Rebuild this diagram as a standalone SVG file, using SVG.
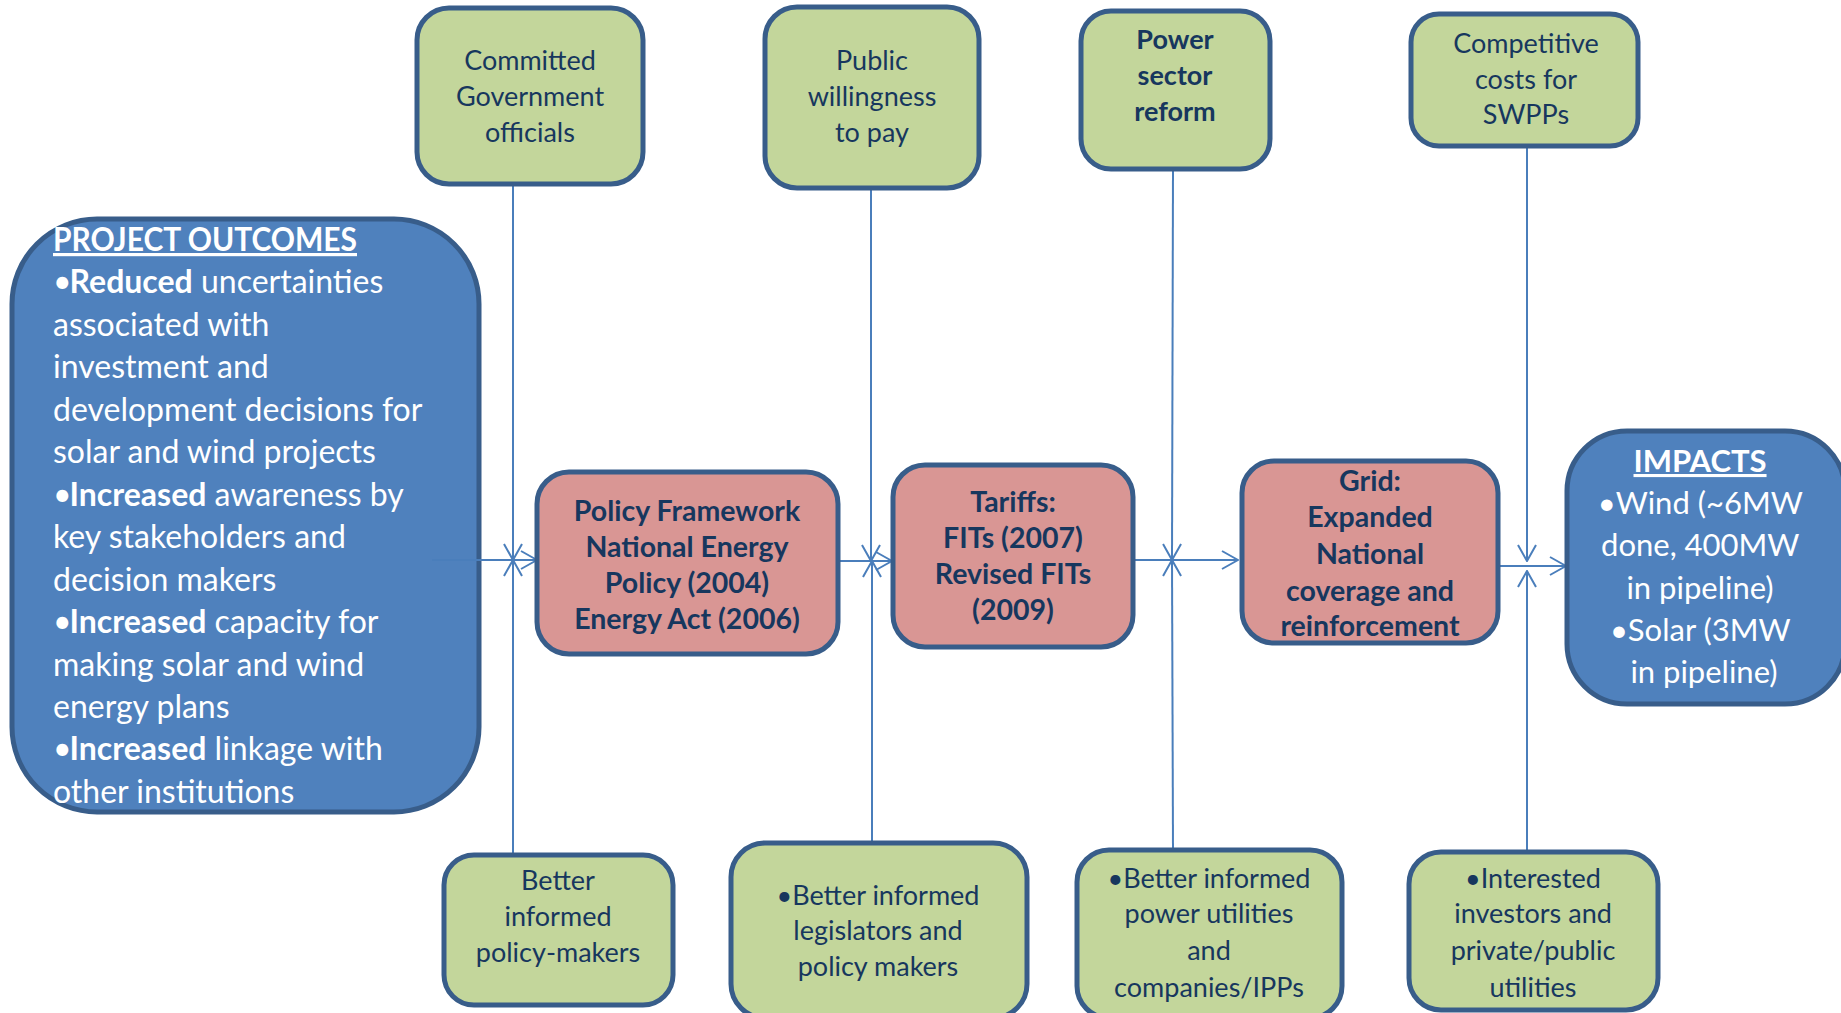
<svg xmlns="http://www.w3.org/2000/svg" width="1841" height="1013" viewBox="0 0 1841 1013">
  <style>
    .green { fill: #C3D69B; stroke: #385D8A; stroke-width: 5; }
    .pink { fill: #D99694; stroke: #385D8A; stroke-width: 5; }
    .blue { fill: #4F81BD; stroke: #385D8A; stroke-width: 5; }
    .lbl { font-family: Lato, "Liberation Sans", sans-serif; font-size: 27px; fill: #17375E; text-anchor: middle; }
    .bold { font-weight: bold; }
    .mid { font-size: 28.5px; }
    .white { font-family: Lato, "Liberation Sans", sans-serif; fill: #FFFFFF; }
    .wire { stroke: #4A7EBB; stroke-width: 2; fill: none; }
  </style>
  <defs>
    <marker id="arrow" viewBox="0 0 18 20" refX="17" refY="10" markerWidth="18" markerHeight="20" markerUnits="userSpaceOnUse" orient="auto">
      <path d="M1,1 L17,10 L1,19" fill="none" stroke="#4A7EBB" stroke-width="2"/>
    </marker>
  </defs>

  <!-- Project outcomes -->
  <g id="outcomes">
    <rect class="blue" x="12" y="219" width="467" height="593" rx="85" ry="85"/>
    <text class="white" font-size="32">
      <tspan x="53" y="251" font-weight="bold" text-decoration="underline" textLength="304" lengthAdjust="spacingAndGlyphs">PROJECT OUTCOMES</tspan>
      <tspan x="53" y="293">•<tspan dx="-2" font-weight="bold">Reduced</tspan> uncertainties</tspan>
      <tspan x="53" y="336">associated with</tspan>
      <tspan x="53" y="378">investment and</tspan>
      <tspan x="53" y="421">development decisions for</tspan>
      <tspan x="53" y="463">solar and wind projects</tspan>
      <tspan x="53" y="506">•<tspan dx="-2" font-weight="bold">Increased</tspan> awareness by</tspan>
      <tspan x="53" y="548">key stakeholders and</tspan>
      <tspan x="53" y="591">decision makers</tspan>
      <tspan x="53" y="633">•<tspan dx="-2" font-weight="bold">Increased</tspan> capacity for</tspan>
      <tspan x="53" y="676">making solar and wind</tspan>
      <tspan x="53" y="718">energy plans</tspan>
      <tspan x="53" y="760">•<tspan dx="-2" font-weight="bold">Increased</tspan> linkage with</tspan>
      <tspan x="53" y="803">other institutions</tspan>
    </text>
  </g>

  <!-- Connectors -->
  <g id="connectors">
    <line class="wire" x1="432" y1="560" x2="537" y2="560" marker-end="url(#arrow)"/>
    <line class="wire" x1="838" y1="561" x2="892" y2="561" marker-end="url(#arrow)"/>
    <line class="wire" x1="1133" y1="560" x2="1238" y2="560" marker-end="url(#arrow)"/>
    <line class="wire" x1="1498" y1="566" x2="1566" y2="566" marker-end="url(#arrow)"/>

    <line class="wire" x1="513" y1="184" x2="513" y2="560" marker-end="url(#arrow)"/>
    <line class="wire" x1="513" y1="855" x2="513" y2="560" marker-end="url(#arrow)"/>
    <line class="wire" x1="871" y1="188" x2="871" y2="561" marker-end="url(#arrow)"/>
    <line class="wire" x1="872" y1="843" x2="872" y2="561" marker-end="url(#arrow)"/>
    <line class="wire" x1="1173" y1="169" x2="1172" y2="560" marker-end="url(#arrow)"/>
    <line class="wire" x1="1173" y1="850" x2="1172" y2="560" marker-end="url(#arrow)"/>
    <line class="wire" x1="1527" y1="146" x2="1527" y2="561" marker-end="url(#arrow)"/>
    <line class="wire" x1="1527" y1="852" x2="1527" y2="571" marker-end="url(#arrow)"/>
  </g>

  <!-- Top row: enabling conditions -->
  <g id="committed-officials">
    <rect class="green" x="417" y="8" width="226" height="176" rx="32" ry="32"/>
    <text class="lbl"><tspan x="530" y="70">Committed</tspan><tspan x="530" y="106">Government</tspan><tspan x="530" y="142">officials</tspan></text>
  </g>
  <g id="public-willingness">
    <rect class="green" x="765" y="7" width="214" height="181" rx="32" ry="32"/>
    <text class="lbl"><tspan x="872" y="70">Public</tspan><tspan x="872" y="106">willingness</tspan><tspan x="872" y="142">to pay</tspan></text>
  </g>
  <g id="power-sector-reform">
    <rect class="green" x="1081" y="11" width="189" height="158" rx="30" ry="30"/>
    <text class="lbl bold"><tspan x="1175" y="49">Power</tspan><tspan x="1175" y="85">sector</tspan><tspan x="1175" y="121">reform</tspan></text>
  </g>
  <g id="competitive-costs">
    <rect class="green" x="1411" y="14" width="227" height="132" rx="28" ry="28"/>
    <text class="lbl"><tspan x="1526" y="53">Competitive</tspan><tspan x="1526" y="89">costs for</tspan><tspan x="1526" y="124">SWPPs</tspan></text>
  </g>

  <!-- Middle row: policy chain -->
  <g id="policy-framework">
    <rect class="pink" x="537" y="472" width="301" height="182" rx="32" ry="32"/>
    <text class="lbl bold mid"><tspan x="687" y="521">Policy Framework</tspan><tspan x="687" y="557">National Energy</tspan><tspan x="687" y="593">Policy (2004)</tspan><tspan x="687" y="629">Energy Act (2006)</tspan></text>
  </g>
  <g id="tariffs">
    <rect class="pink" x="893" y="465" width="240" height="182" rx="32" ry="32"/>
    <text class="lbl bold mid"><tspan x="1013" y="512">Tariffs:</tspan><tspan x="1013" y="548">FITs (2007)</tspan><tspan x="1013" y="584">Revised FITs</tspan><tspan x="1013" y="620">(2009)</tspan></text>
  </g>
  <g id="grid">
    <rect class="pink" x="1242" y="461" width="256" height="182" rx="32" ry="32"/>
    <text class="lbl bold mid"><tspan x="1370" y="491">Grid:</tspan><tspan x="1370" y="527">Expanded</tspan><tspan x="1370" y="564">National</tspan><tspan x="1370" y="601">coverage and</tspan><tspan x="1370" y="636">reinforcement</tspan></text>
  </g>
  <g id="impacts">
    <rect class="blue" x="1567" y="431" width="278" height="273" rx="60" ry="60"/>
    <text class="white" font-size="31" text-anchor="middle">
      <tspan x="1704" y="472" font-weight="bold" text-decoration="underline">IMPACTS</tspan>
      <tspan x="1704" y="514">•Wind (~6MW</tspan>
      <tspan x="1704" y="556">done, 400MW</tspan>
      <tspan x="1704" y="599">in pipeline)</tspan>
      <tspan x="1704" y="641">•Solar (3MW</tspan>
      <tspan x="1704" y="683">in pipeline)</tspan>
    </text>
  </g>

  <!-- Bottom row: stakeholder results -->
  <g id="informed-policy-makers">
    <rect class="green" x="444" y="855" width="229" height="150" rx="30" ry="30"/>
    <text class="lbl"><tspan x="558" y="890">Better</tspan><tspan x="558" y="926">informed</tspan><tspan x="558" y="962">policy-makers</tspan></text>
  </g>
  <g id="informed-legislators">
    <rect class="green" x="731" y="843" width="296" height="175" rx="34" ry="34"/>
    <text class="lbl"><tspan x="878" y="905">•Better informed</tspan><tspan x="878" y="940">legislators and</tspan><tspan x="878" y="976">policy makers</tspan></text>
  </g>
  <g id="informed-utilities">
    <rect class="green" x="1077" y="850" width="265" height="168" rx="32" ry="32"/>
    <text class="lbl"><tspan x="1209" y="888">•Better informed</tspan><tspan x="1209" y="923">power utilities</tspan><tspan x="1209" y="960">and</tspan><tspan x="1209" y="997">companies/IPPs</tspan></text>
  </g>
  <g id="interested-investors">
    <rect class="green" x="1409" y="852" width="249" height="158" rx="32" ry="32"/>
    <text class="lbl"><tspan x="1533" y="888">•Interested</tspan><tspan x="1533" y="923">investors and</tspan><tspan x="1533" y="960">private/public</tspan><tspan x="1533" y="997">utilities</tspan></text>
  </g>
</svg>
